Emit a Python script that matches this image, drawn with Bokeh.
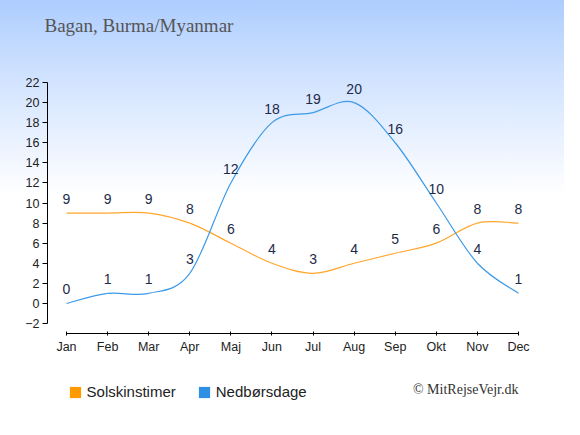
from bokeh.plotting import figure
from bokeh.models import (Range1d, FixedTicker, Label, Legend, LegendItem,
                          InlineStyleSheet, ColumnDataSource)
from bokeh.core.properties import value
from bokeh.embed import file_html
from bokeh.resources import INLINE

months = ["Jan", "Feb", "Mar", "Apr", "Maj", "Jun", "Jul", "Aug", "Sep", "Okt", "Nov", "Dec"]
sun_hours = [9, 9, 9, 8, 6, 4, 3, 4, 5, 6, 8, 8]
rain_days = [0, 1, 1, 3, 12, 18, 19, 20, 16, 10, 4, 1]
y_ticks = list(range(-2, 23, 2))
title_text = "Bagan, Burma/Myanmar"
credit_text = "\u00a9 MitRejseVejr.dk"
series_names = ["Solskinstimer", "Nedb\u00f8rsdage"]

ORANGE_LINE = "#ffa62b"
BLUE_LINE = "#3c9ae8"
ORANGE_BOX = "#ff9900"
BLUE_BOX = "#2f8fe3"
LABEL_COLOR = "#1d2b48"

W, H = 564, 419
p = figure(width=W, height=H, output_backend="svg", toolbar_location=None,
           x_range=Range1d(-1.6062, 12.1197), y_range=Range1d(-11.560, 30.166),
           min_border=0)
p.background_fill_color = None
p.border_fill_color = None
p.outline_line_color = None
p.grid.visible = False
p.stylesheets = [InlineStyleSheet(css=":host { background: linear-gradient(180deg, #adcdfe 0px, #d6e6ff 90px, #ffffff 195px); }")]


def bezier_source(ys):
    xs = list(range(len(ys)))
    n = len(ys)
    d = dict(x0=[], y0=[], x1=[], y1=[], cx0=[], cy0=[], cx1=[], cy1=[])
    for i in range(n - 1):
        xm = xs[max(i - 1, 0)]; ym = ys[max(i - 1, 0)]
        xp = xs[min(i + 2, n - 1)]; yp = ys[min(i + 2, n - 1)]
        d["x0"].append(xs[i]); d["y0"].append(ys[i])
        d["x1"].append(xs[i + 1]); d["y1"].append(ys[i + 1])
        d["cx0"].append(xs[i] + (xs[i + 1] - xm) / 6)
        d["cy0"].append(ys[i] + (ys[i + 1] - ym) / 6)
        d["cx1"].append(xs[i + 1] - (xp - xs[i]) / 6)
        d["cy1"].append(ys[i + 1] - (yp - ys[i]) / 6)
    return ColumnDataSource(d)


p.bezier(x0="x0", y0="y0", x1="x1", y1="y1", cx0="cx0", cy0="cy0", cx1="cx1", cy1="cy1",
         source=bezier_source(sun_hours), line_color=ORANGE_LINE, line_width=1.2)
p.bezier(x0="x0", y0="y0", x1="x1", y1="y1", cx0="cx0", cy0="cy0", cx1="cx1", cy1="cy1",
         source=bezier_source(rain_days), line_color=BLUE_LINE, line_width=1.2)

idx = list(range(len(months)))
for ys in (sun_hours, rain_days):
    p.text(x=idx, y=ys, text=[str(v) for v in ys], y_offset=-14,
           text_font=value("Liberation Sans"), text_font_size="14px",
           text_color=LABEL_COLOR, text_align="center", text_baseline="middle")

# axes drawn at fixed places inside the frame
xa = p.xaxis[0]
xa.fixed_location = -2.996
xa.ticker = FixedTicker(ticks=idx)
xa.major_label_overrides = {i: m for i, m in enumerate(months)}
xa.bounds = (0, 11)
xa.minor_tick_line_color = None
xa.major_tick_in = 2
xa.major_tick_out = 2
xa.major_label_standoff = 4
xa.axis_line_color = "black"
xa.major_tick_line_color = "black"
xa.major_label_text_font = "Liberation Sans"
xa.major_label_text_font_size = "12.5px"
xa.major_label_text_color = "#222222"

ya = p.yaxis[0]
ya.fixed_location = -0.4624
ya.ticker = FixedTicker(ticks=y_ticks)
ya.bounds = (-2, 22)
ya.minor_tick_line_color = None
ya.major_tick_in = 0
ya.major_tick_out = 5
ya.major_label_standoff = 3
ya.axis_line_color = "black"
ya.major_tick_line_color = "black"
ya.major_label_text_font = "Liberation Sans"
ya.major_label_text_font_size = "12.5px"
ya.major_label_text_color = "#222222"

# legend (dummy renderers kept outside the visible range)
r_sun = p.quad(left=[-100], right=[-99], top=[-100], bottom=[-101],
               fill_color=ORANGE_BOX, line_color=None)
r_rain = p.quad(left=[-100], right=[-99], top=[-100], bottom=[-101],
                fill_color=BLUE_BOX, line_color=None)
legend = Legend(items=[LegendItem(label=series_names[0], renderers=[r_sun]),
                       LegendItem(label=series_names[1], renderers=[r_rain])],
                orientation="horizontal", location=(67.6, 19),
                glyph_width=14, glyph_height=14, label_standoff=5, spacing=21,
                padding=0, margin=0, border_line_color=None,
                background_fill_alpha=0,
                label_text_font="Liberation Sans", label_text_font_size="15px",
                label_text_color="#222222")
p.add_layout(legend)

p.add_layout(Label(x=-0.5354, y=27.676, text=title_text, text_font="Liberation Serif",
                   text_font_size="19px", text_color="#555555", text_baseline="middle",
                   text_align="left"))
p.add_layout(Label(x=11.0, y=-8.573, text=credit_text, text_font="Liberation Serif",
                   text_font_size="14px", text_color="#333333", text_baseline="middle",
                   text_align="right"))

open("out.html", "w").write(file_html(p, INLINE))
